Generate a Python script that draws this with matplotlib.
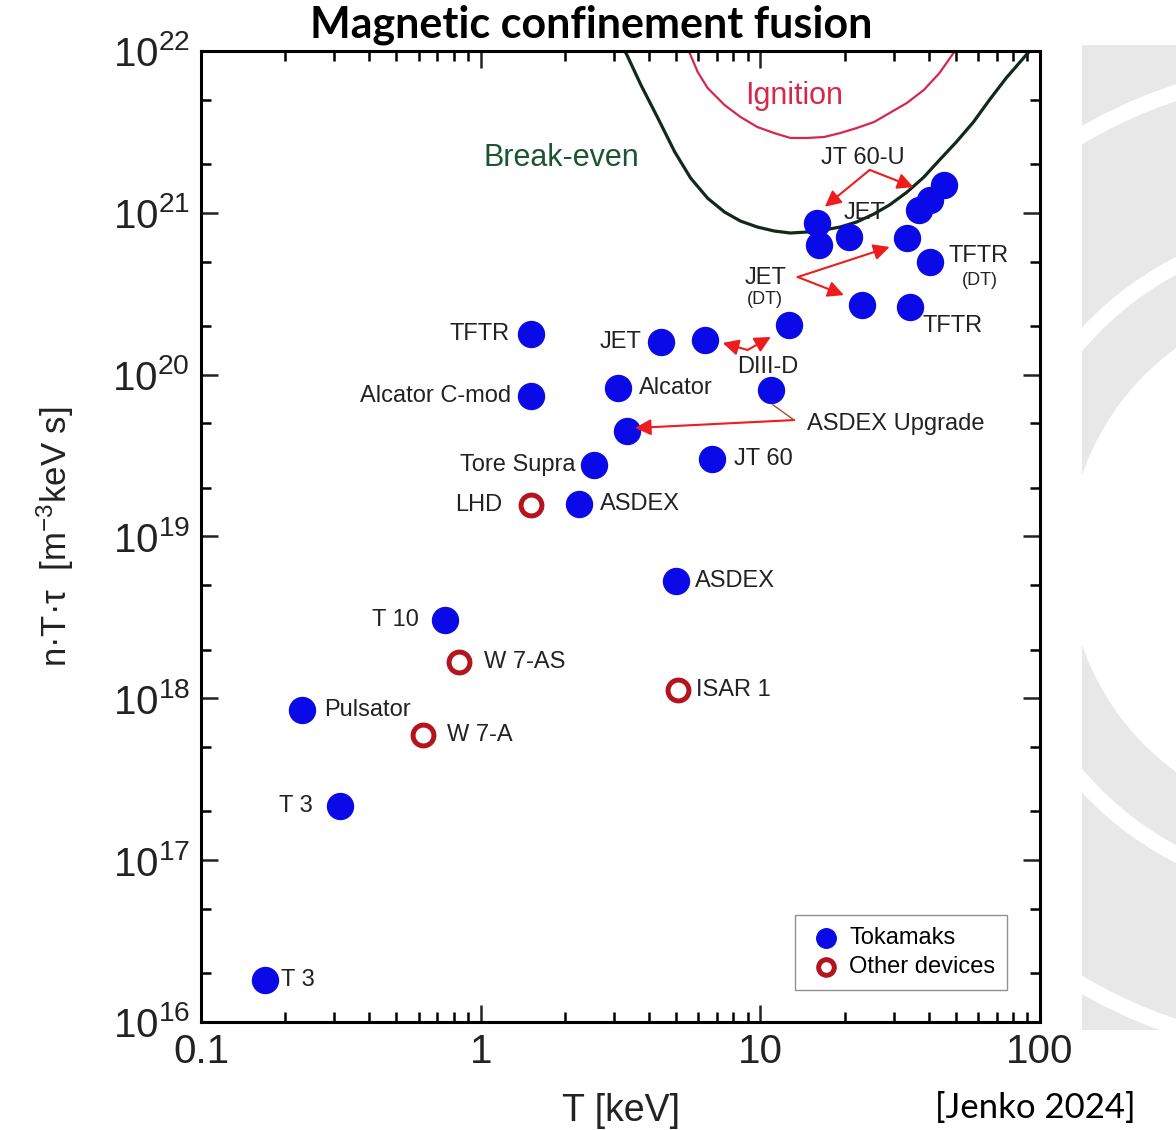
import matplotlib.pyplot as plt
from matplotlib.ticker import LogLocator, NullFormatter
from matplotlib.patches import Rectangle, Circle, Wedge

plt.rcParams['font.family'] = ['Liberation Sans', 'DejaVu Sans']
plt.rcParams['mathtext.fontset'] = 'custom'
plt.rcParams['mathtext.rm'] = 'Liberation Sans'
plt.rcParams['mathtext.it'] = 'Liberation Sans:italic'

# tokamaks: temperature [keV], triple product [m^-3 keV s]
tok_T = [0.170, 0.313, 0.229, 0.745, 4.99, 2.25, 2.55, 6.69, 3.34, 1.51, 3.10,
         10.9, 1.51, 4.41, 6.32, 12.7, 23.1, 34.2, 40.3, 33.4, 16.0, 16.2,
         20.7, 36.8, 40.3, 45.2]
tok_ntt = [1.81e16, 2.16e17, 8.46e17, 3.04e18, 5.30e18, 1.58e19, 2.76e19,
           3.01e19, 4.48e19, 7.38e19, 8.27e19, 8.04e19, 1.78e20, 1.59e20,
           1.64e20, 2.03e20, 2.69e20, 2.62e20, 4.97e20, 6.99e20, 8.65e20,
           6.32e20, 7.08e20, 1.04e21, 1.20e21, 1.49e21]
tok_names = ["T 3", "T 3", "Pulsator", "T 10", "ASDEX", "ASDEX", "Tore Supra",
             "JT 60", "", "Alcator C-mod", "Alcator", "", "TFTR", "JET", "", "",
             "", "TFTR", "TFTR", "", "", "", "", "", "", ""]

# other devices (stellarators etc.)
oth_T = [1.51, 0.836, 0.623, 5.07]
oth_ntt = [1.56e19, 1.67e18, 5.93e17, 1.12e18]
oth_names = ["LHD", "W 7-AS", "W 7-A", "ISAR 1"]

# break-even and ignition curves
be_T = [3.25, 3.31, 3.74, 4.30, 4.94, 5.63, 6.48, 7.45, 8.49, 9.75, 11.2, 12.8,
        14.7, 16.9, 19.3, 22.1, 25.5, 29.0, 33.4, 38.4, 43.7, 50.2, 57.8, 65.9,
        75.7, 89.2, 92.0]
be_ntt = [1.0e22, 9.7e21, 6.17e21, 3.85e21, 2.38e21, 1.64e21, 1.23e21, 1.01e21,
          8.89e20, 8.17e20, 7.72e20, 7.50e20, 7.61e20, 7.83e20, 8.17e20, 8.77e20,
          9.84e20, 1.12e21, 1.34e21, 1.66e21, 2.12e21, 2.74e21, 3.64e21, 4.98e21,
          6.81e21, 9.45e21, 1.0e22]
ig_T = [5.5, 5.59, 5.97, 6.48, 7.45, 8.49, 9.75, 11.2, 12.8, 14.7, 16.9, 19.3,
        22.1, 25.5, 29.0, 33.4, 38.4, 43.7, 49.0, 49.5]
ig_ntt = [1.0e22, 9.7e21, 7.41e21, 5.90e21, 4.63e21, 3.91e21, 3.39e21, 3.11e21,
          2.90e21, 2.90e21, 2.94e21, 3.11e21, 3.34e21, 3.64e21, 4.14e21, 4.77e21,
          5.74e21, 7.31e21, 9.7e21, 1.0e22]

blue = "#0a0ae8"
ring = "#b3141e"
arrow_red = "#ee1c1c"
txt = "#222222"

fig = plt.figure(figsize=(11.76, 11.30), dpi=100)

# faint background logo at the right edge (pixel coords, origin bottom-left)
bg = Rectangle((1082, 100), 94, 985, transform=None, facecolor="#e8e8e8",
               edgecolor="none", zorder=-2)
fig.patches.append(bg)
for r, w in [(262, 262), (340, 16), (500, 16)]:
    gap = Wedge((1330, 570), r, 0, 360, width=w, transform=None,
                facecolor="white", edgecolor="none", zorder=-1)
    gap.set_clip_path(bg)
    fig.patches.append(gap)

ax = fig.add_axes([0.1709, 0.0956, 0.7135, 0.8593])

ax.plot(ig_T, ig_ntt, color="#d6284a", lw=1.6)
ax.plot(be_T, be_ntt, color="#0f2a1a", lw=2.3)

ax.scatter(tok_T, tok_ntt, s=350, color=blue, zorder=3, label="Tokamaks")
ax.scatter(oth_T, oth_ntt, s=225, facecolor="white", edgecolor=ring,
           linewidths=3.6, zorder=3, label="Other devices")

ax.set_xscale("log")
ax.set_yscale("log")
ax.set_xlim(0.1, 100)
ax.set_ylim(1e16, 1e22)

# label offsets in pixels (dx, dy, ha) per point
tok_offs = [(16, 0, "left"), (-27, 0, "right"), (23, 0, "left"), (-26, 0, "right"),
            (19, 0, "left"), (21, 0, "left"), (-19, 0, "right"), (22, 0, "left"),
            None, (-20, 0, "right"), (21, 0, "left"), None, (-21, 0, "right"),
            (-19, 0, "right"), None, None, None, (13, -19, "left"),
            (19, 6, "left"), None, None, None, None, None, None, None]
oth_offs = [(-28, 0, "right"), (25, 0, "left"), (24, 0, "left"), (18, 0, "left")]

fs = 17
for name, x, y, off in zip(tok_names, tok_T, tok_ntt, tok_offs):
    if off is None or name == "":
        continue
    ax.annotate(name, (x, y), xytext=(off[0], off[1]), textcoords="offset pixels",
                ha=off[2], va="center", fontsize=fs, color=txt)
for name, x, y, off in zip(oth_names, oth_T, oth_ntt, oth_offs):
    ax.annotate(name, (x, y), xytext=(off[0], off[1]), textcoords="offset pixels",
                ha=off[2], va="center", fontsize=fs, color=txt)

# "(DT)" under TFTR (DT)
ax.annotate("(DT)", (40.3, 4.97e20), xytext=(50, -19), textcoords="offset pixels",
            ha="center", va="center", fontsize=13, color=txt)

# free labels
ax.text(13.2, 5.27e21, "Ignition", color="#d6284a", fontsize=22, ha="center", va="center")
ax.text(1.94, 2.18e21, "Break-even", color="#1c5530", fontsize=22, ha="center", va="center")
ax.text(23.3, 2.18e21, "JT 60-U", fontsize=fs, ha="center", va="center", color=txt)
ax.text(23.6, 1.0e21, "JET", fontsize=fs, ha="center", va="center", color=txt)
ax.text(10.4, 3.96e20, "JET", fontsize=fs, ha="center", va="center", color=txt)
ax.text(10.4, 2.93e20, "(DT)", fontsize=13, ha="center", va="center", color=txt)
ax.text(10.6, 1.11e20, "DIII-D", fontsize=fs, ha="center", va="center", color=txt)
ax.text(14.7, 4.95e19, "ASDEX Upgrade", fontsize=fs, ha="left", va="center", color=txt)

# arrows
aprops = dict(arrowstyle="-|>", color=arrow_red, lw=1.5, mutation_scale=24,
              shrinkA=0, shrinkB=0)
arrows = [((24.6, 1.84e21), (17.0, 1.09e21)),
          ((24.6, 1.84e21), (35.3, 1.44e21)),
          ((13.6, 4.01e20), (29.0, 6.15e20)),
          ((13.6, 4.01e20), (19.9, 3.1e20)),
          ((9.0, 1.42e20), (7.33, 1.57e20)),
          ((9.0, 1.42e20), (10.9, 1.71e20)),
          ((13.2, 5.24e19), (3.56, 4.68e19))]
for start, end in arrows:
    ax.annotate("", xy=end, xytext=start, arrowprops=aprops)
ax.plot([11.1, 13.2], [6.5e19, 5.24e19], color="#a0522d", lw=1.0)

# ticks
ax.yaxis.set_major_locator(LogLocator(base=10, numticks=10))
ax.yaxis.set_minor_locator(LogLocator(base=10, subs=(2, 5), numticks=10))
ax.yaxis.set_minor_formatter(NullFormatter())
ax.xaxis.set_minor_locator(LogLocator(base=10, subs=range(2, 10), numticks=10))
ax.xaxis.set_minor_formatter(NullFormatter())
ax.set_xticks([0.1, 1, 10, 100])
ax.set_xticklabels(["0.1", "1", "10", "100"])
ax.tick_params(which="both", direction="in", top=True, right=True, width=1.8)
ax.tick_params(which="major", length=12, labelsize=29, pad=8, colors=txt)
ax.tick_params(which="minor", length=7)
for sp in ax.spines.values():
    sp.set_linewidth(2.2)

ax.set_xlabel("T [keV]", fontsize=27, labelpad=16, color=txt)
ax.set_ylabel("n·T·τ  [m$^{-3}$keV s]", fontsize=25, labelpad=26, color=txt)

leg = ax.legend(loc="lower right", bbox_to_anchor=(0.9607, 0.033), borderaxespad=0,
                fontsize=17, fancybox=False, edgecolor="#777777", markerscale=0.75,
                handletextpad=0.2, borderpad=0.5, labelspacing=0.3, handlelength=1.6)
leg.get_frame().set_linewidth(1.0)

fig.text(0.503, 0.978, "Magnetic confinement fusion", fontsize=31, fontweight="bold",
         family=["Lato", "DejaVu Sans"], ha="center", va="center")
fig.text(0.880, 0.0195, "[Jenko 2024]", fontsize=25, family=["Lato", "DejaVu Sans"],
         ha="center", va="center")

fig.savefig("out.png", dpi=100)
